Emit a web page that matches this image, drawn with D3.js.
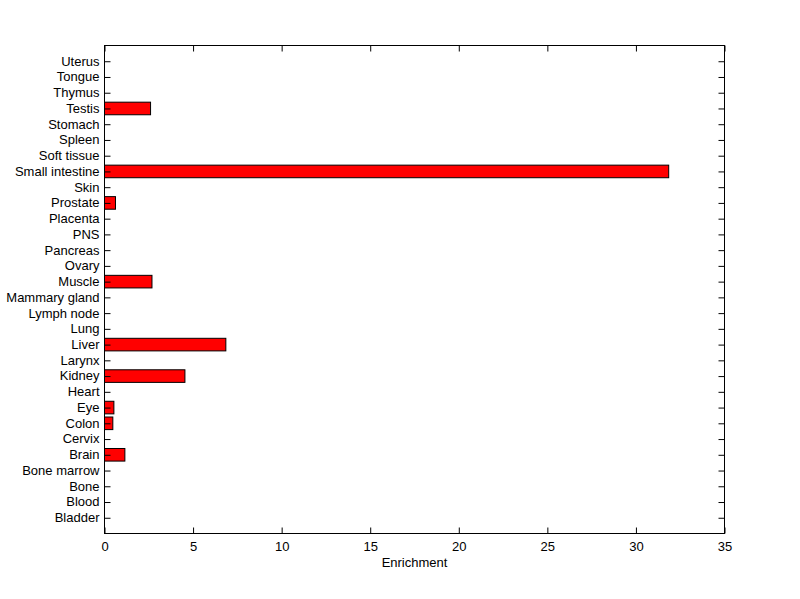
<!DOCTYPE html>
<html><head><meta charset="utf-8">
<script src="https://cdn.jsdelivr.net/npm/d3@7"></script>
<style>body{margin:0;background:#fff}svg{display:block}text{font-family:"Liberation Sans",Arial,sans-serif;font-size:13px;fill:#000}</style>
</head><body>
<script>
const categories = ["Bladder","Blood","Bone","Bone marrow","Brain","Cervix","Colon","Eye","Heart","Kidney","Larynx","Liver","Lung","Lymph node","Mammary gland","Muscle","Ovary","Pancreas","PNS","Placenta","Prostate","Skin","Small intestine","Soft tissue","Spleen","Stomach","Testis","Thymus","Tongue","Uterus"];
const values = [0,0,0,0,1.15,0,0.47,0.53,0,4.54,0,6.85,0,0,0,2.68,0,0,0,0,0.62,0,31.85,0,0,0,2.6,0,0,0];
const xTicks = [0,5,10,15,20,25,30,35];
const xLabel = "Enrichment";

const W=800,H=599, L=104.5, R=724.5, T=45.5, B=533.5;
const svg=d3.select("body").append("svg").attr("width",W).attr("height",H);
const x=d3.scaleLinear().domain([0,35]).range([L,R]);
const y=d3.scaleLinear().domain([0,categories.length+1]).range([B,T]);
const bh = (y(0)-y(0.8));

svg.selectAll("rect.bar").data(values.map((v,i)=>({v,i}))).enter().filter(d=>d.v>0)
  .append("rect").attr("class","bar")
  .attr("x",x(0)).attr("y",d=>y(d.i+1)-bh/2).attr("width",d=>x(d.v)-x(0)).attr("height",bh)
  .attr("fill","#ff0000").attr("stroke","#000").attr("stroke-width",1);

// box
svg.append("rect").attr("x",L).attr("y",T).attr("width",R-L).attr("height",B-T).attr("fill","none").attr("stroke","#000");

// y ticks (inward on both sides)
const yt = categories.map((c,i)=>i+1);
svg.append("g").attr("transform",`translate(${L},0)`)
  .call(d3.axisLeft(y).tickValues(yt).tickSize(-6).tickPadding(5).tickFormat((d)=>categories[d-1]))
  .call(g=>{g.select(".domain").remove();g.selectAll("line").attr("stroke","#000");g.selectAll("text").attr("font-size",13).attr("dy","0.3em");});
svg.append("g").attr("transform",`translate(${R},0)`)
  .call(d3.axisRight(y).tickValues(yt).tickSize(-6).tickFormat(""))
  .call(g=>{g.select(".domain").remove();g.selectAll("line").attr("stroke","#000");});
// x ticks
svg.append("g").attr("transform",`translate(0,${B})`)
  .call(d3.axisBottom(x).tickValues(xTicks).tickSize(-6).tickPadding(13).tickFormat(d3.format("d")))
  .call(g=>{g.select(".domain").remove();g.selectAll("line").attr("stroke","#000");g.selectAll("text").attr("font-size",13).attr("dy","0.35em");});
svg.append("g").attr("transform",`translate(0,${T})`)
  .call(d3.axisTop(x).tickValues(xTicks).tickSize(-6).tickFormat(""))
  .call(g=>{g.select(".domain").remove();g.selectAll("line").attr("stroke","#000");});

svg.append("text").attr("x",(L+R)/2).attr("y",566.5).attr("text-anchor","middle").attr("font-size",13).text(xLabel);
</script>
</body></html>
